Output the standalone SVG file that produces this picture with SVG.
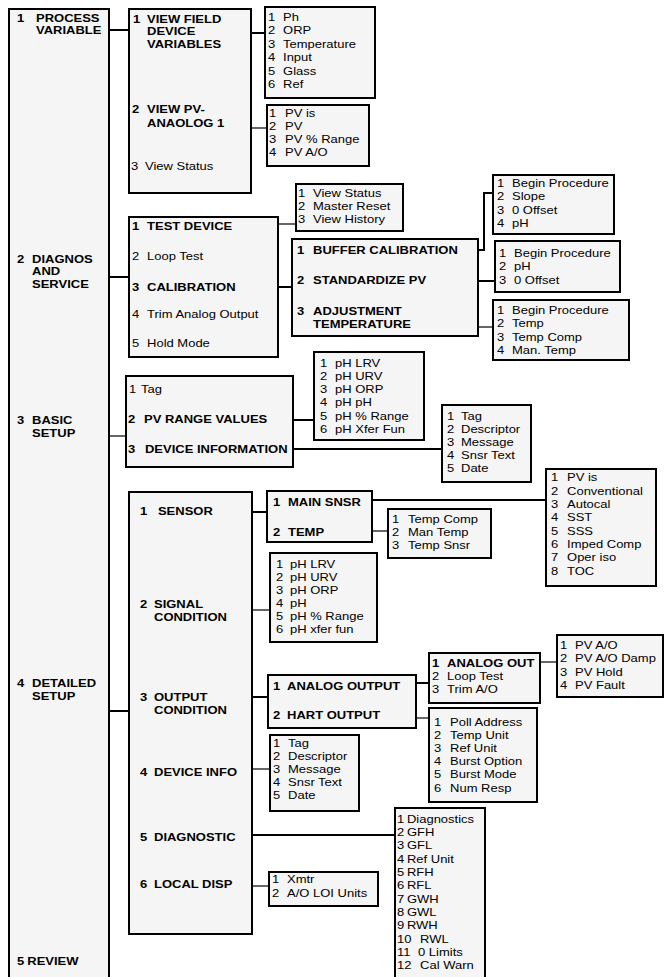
<svg xmlns="http://www.w3.org/2000/svg" width="665" height="977" viewBox="0 0 665 977">
<style>
.box{fill:#f5f5f5;stroke:#000;stroke-width:2}
text{font-family:"Liberation Sans",Arial,sans-serif;font-size:11.5px;fill:#000}
text.b{font-weight:bold}
.c{fill:none;stroke:#000}
.k{stroke-width:2}
.n{stroke-width:1.2}
</style>
<rect width="665" height="977" fill="#fff"/>
<g id="connectors">
<path class="c k" d="M109 30H129"/>
<path class="c k" d="M251 33H265"/>
<path class="c n" d="M251 128H267"/>
<path class="c k" d="M109 277H129"/>
<path class="c n" d="M278 224H296"/>
<path class="c k" d="M278 287H292"/>
<path class="c k" d="M478 250H484V193H493"/>
<path class="c k" d="M478 281H495"/>
<path class="c n" d="M478 327H493"/>
<path class="c n" d="M109 436H126"/>
<path class="c k" d="M293 420H314"/>
<path class="c k" d="M293 449H442"/>
<path class="c k" d="M109 711H129"/>
<path class="c k" d="M252 512H267"/>
<path class="c k" d="M372 500H546"/>
<path class="c n" d="M372 531H388"/>
<path class="c n" d="M252 610H270"/>
<path class="c k" d="M252 697H268"/>
<path class="c k" d="M416 683H429"/>
<path class="c n" d="M540 662H557"/>
<path class="c n" d="M416 718H429"/>
<path class="c n" d="M252 769H270"/>
<path class="c k" d="M252 835H395"/>
<path class="c n" d="M252 886H269"/>
</g>
<g id="main">
<rect class="box" x="9" y="9" width="100" height="1000"/>
<g transform="matrix(1.13 0 0 1 -2.21 0)">
<text class="b" y="22"><tspan x="17">1</tspan><tspan x="33.8">PROCESS</tspan></text>
<text class="b" x="33.8" y="34.5">VARIABLE</text>
<text class="b" y="263"><tspan x="17">2</tspan><tspan x="30.3">DIAGNOS</tspan></text>
<text class="b" x="30.3" y="275.5">AND</text>
<text class="b" x="30.3" y="288">SERVICE</text>
<text class="b" y="424.5"><tspan x="17">3</tspan><tspan x="30.3">BASIC</tspan></text>
<text class="b" x="30.3" y="437">SETUP</text>
<text class="b" y="687.5"><tspan x="17">4</tspan><tspan x="30.3">DETAILED</tspan></text>
<text class="b" x="30.3" y="700">SETUP</text>
<text class="b" y="965"><tspan x="17">5</tspan><tspan x="26.1">REVIEW</tspan></text>
</g>
</g>
<g id="pv">
<rect class="box" x="129" y="9" width="122" height="184"/>
<g transform="matrix(1.13 0 0 1 -17.29 0)">
<text class="b" y="23"><tspan x="133">1</tspan><tspan x="145.4">VIEW FIELD</tspan></text>
<text class="b" x="145.4" y="35.5">DEVICE</text>
<text class="b" x="145.4" y="48.5">VARIABLES</text>
<text class="b" y="113"><tspan x="132.1">2</tspan><tspan x="145.4">VIEW PV-</tspan></text>
<text class="b" x="145.4" y="127">ANAOLOG 1</text>
<text y="170"><tspan x="131.2">3</tspan><tspan x="143.6">View Status</tspan></text>
</g>
</g>
<g id="fieldvars">
<rect class="box" x="265" y="7" width="110" height="91"/>
<g transform="matrix(1.13 0 0 1 -34.84 0)">
<text y="21"><tspan x="268">1</tspan><tspan x="281.3">Ph</tspan></text>
<text y="34.5"><tspan x="268">2</tspan><tspan x="281.3">ORP</tspan></text>
<text y="48"><tspan x="268">3</tspan><tspan x="281.3">Temperature</tspan></text>
<text y="61.5"><tspan x="268">4</tspan><tspan x="281.3">Input</tspan></text>
<text y="75"><tspan x="268">5</tspan><tspan x="281.3">Glass</tspan></text>
<text y="88"><tspan x="268">6</tspan><tspan x="281.3">Ref</tspan></text>
</g>
</g>
<g id="pvanalog">
<rect class="box" x="267" y="105" width="102" height="61"/>
<g transform="matrix(1.13 0 0 1 -34.97 0)">
<text y="117"><tspan x="269">1</tspan><tspan x="283.2">PV is</tspan></text>
<text y="130"><tspan x="269">2</tspan><tspan x="283.2">PV</tspan></text>
<text y="143"><tspan x="269">3</tspan><tspan x="283.2">PV % Range</tspan></text>
<text y="156"><tspan x="269">4</tspan><tspan x="283.2">PV A/O</tspan></text>
</g>
</g>
<g id="diag">
<rect class="box" x="129" y="217" width="149" height="140"/>
<g transform="matrix(1.13 0 0 1 -17.16 0)">
<text class="b" y="230"><tspan x="132">1</tspan><tspan x="145.3">TEST DEVICE</tspan></text>
<text y="260"><tspan x="132">2</tspan><tspan x="145.3">Loop Test</tspan></text>
<text class="b" y="291"><tspan x="132">3</tspan><tspan x="145.3">CALIBRATION</tspan></text>
<text y="318"><tspan x="132">4</tspan><tspan x="145.3">Trim Analog Output</tspan></text>
<text y="347"><tspan x="132">5</tspan><tspan x="145.3">Hold Mode</tspan></text>
</g>
</g>
<g id="testdevice">
<rect class="box" x="296" y="184" width="107" height="47"/>
<g transform="matrix(1.13 0 0 1 -38.74 0)">
<text y="197"><tspan x="298">1</tspan><tspan x="311.3">View Status</tspan></text>
<text y="210"><tspan x="298">2</tspan><tspan x="311.3">Master Reset</tspan></text>
<text y="223"><tspan x="298">3</tspan><tspan x="311.3">View History</tspan></text>
</g>
</g>
<g id="calibration">
<rect class="box" x="292" y="239" width="186" height="97"/>
<g transform="matrix(1.13 0 0 1 -38.61 0)">
<text class="b" y="254"><tspan x="297">1</tspan><tspan x="311.2">BUFFER CALIBRATION</tspan></text>
<text class="b" y="284"><tspan x="297">2</tspan><tspan x="311.2">STANDARDIZE PV</tspan></text>
<text class="b" y="315"><tspan x="297">3</tspan><tspan x="311.2">ADJUSTMENT</tspan></text>
<text class="b" x="311.2" y="328">TEMPERATURE</text>
</g>
</g>
<g id="buffer">
<rect class="box" x="493" y="175" width="121" height="59"/>
<g transform="matrix(1.13 0 0 1 -64.61 0)">
<text y="187"><tspan x="497">1</tspan><tspan x="510.3">Begin Procedure</tspan></text>
<text y="200.5"><tspan x="497">2</tspan><tspan x="510.3">Slope</tspan></text>
<text y="214"><tspan x="497">3</tspan><tspan x="510.3">0 Offset</tspan></text>
<text y="227"><tspan x="497">4</tspan><tspan x="510.3">pH</tspan></text>
</g>
</g>
<g id="standardize">
<rect class="box" x="495" y="241" width="125" height="51"/>
<g transform="matrix(1.13 0 0 1 -64.87 0)">
<text y="257"><tspan x="499">1</tspan><tspan x="512.3">Begin Procedure</tspan></text>
<text y="270.5"><tspan x="499">2</tspan><tspan x="512.3">pH</tspan></text>
<text y="284"><tspan x="499">3</tspan><tspan x="512.3">0 Offset</tspan></text>
</g>
</g>
<g id="adjtemp">
<rect class="box" x="493" y="300" width="136" height="60"/>
<g transform="matrix(1.13 0 0 1 -64.61 0)">
<text y="314"><tspan x="497">1</tspan><tspan x="510.3">Begin Procedure</tspan></text>
<text y="327.5"><tspan x="497">2</tspan><tspan x="510.3">Temp</tspan></text>
<text y="341"><tspan x="497">3</tspan><tspan x="510.3">Temp Comp</tspan></text>
<text y="354"><tspan x="497">4</tspan><tspan x="510.3">Man. Temp</tspan></text>
</g>
</g>
<g id="basic">
<rect class="box" x="126" y="376" width="167" height="91"/>
<g transform="matrix(1.13 0 0 1 -16.64 0)">
<text y="393"><tspan x="128.9">1</tspan><tspan x="139.5">Tag</tspan></text>
<text class="b" y="423"><tspan x="128">2</tspan><tspan x="142.2">PV RANGE VALUES</tspan></text>
<text class="b" y="453"><tspan x="128">3</tspan><tspan x="143">DEVICE INFORMATION</tspan></text>
</g>
</g>
<g id="pvrange">
<rect class="box" x="314" y="352" width="110" height="88"/>
<g transform="matrix(1.13 0 0 1 -41.6 0)">
<text y="367"><tspan x="320">1</tspan><tspan x="333.3">pH LRV</tspan></text>
<text y="380"><tspan x="320">2</tspan><tspan x="333.3">pH URV</tspan></text>
<text y="393.5"><tspan x="320">3</tspan><tspan x="333.3">pH ORP</tspan></text>
<text y="406.5"><tspan x="320">4</tspan><tspan x="333.3">pH pH</tspan></text>
<text y="420"><tspan x="320">5</tspan><tspan x="333.3">pH % Range</tspan></text>
<text y="433"><tspan x="320">6</tspan><tspan x="333.3">pH Xfer Fun</tspan></text>
</g>
</g>
<g id="devinfo">
<rect class="box" x="442" y="405" width="89" height="77"/>
<g transform="matrix(1.13 0 0 1 -58.11 0)">
<text y="420"><tspan x="447">1</tspan><tspan x="459.4">Tag</tspan></text>
<text y="433"><tspan x="447">2</tspan><tspan x="459.4">Descriptor</tspan></text>
<text y="446"><tspan x="447">3</tspan><tspan x="459.4">Message</tspan></text>
<text y="459"><tspan x="447">4</tspan><tspan x="459.4">Snsr Text</tspan></text>
<text y="472"><tspan x="447">5</tspan><tspan x="459.4">Date</tspan></text>
</g>
</g>
<g id="detailed">
<rect class="box" x="129" y="492" width="123" height="442"/>
<g transform="matrix(1.13 0 0 1 -18.2 0)">
<text class="b" y="515"><tspan x="140">1</tspan><tspan x="155.9">SENSOR</tspan></text>
<text class="b" y="608"><tspan x="140">2</tspan><tspan x="152.4">SIGNAL</tspan></text>
<text class="b" x="152.4" y="621">CONDITION</text>
<text class="b" y="701"><tspan x="140">3</tspan><tspan x="152.4">OUTPUT</tspan></text>
<text class="b" x="152.4" y="714">CONDITION</text>
<text class="b" y="776"><tspan x="140">4</tspan><tspan x="152.4">DEVICE INFO</tspan></text>
<text class="b" y="841"><tspan x="140">5</tspan><tspan x="152.4">DIAGNOSTIC</tspan></text>
<text class="b" y="888"><tspan x="140">6</tspan><tspan x="152.4">LOCAL DISP</tspan></text>
</g>
</g>
<g id="sensor">
<rect class="box" x="267" y="491" width="105" height="51"/>
<g transform="matrix(1.13 0 0 1 -35.49 0)">
<text class="b" y="506"><tspan x="273">1</tspan><tspan x="286.3">MAIN SNSR</tspan></text>
<text class="b" y="536"><tspan x="273">2</tspan><tspan x="286.3">TEMP</tspan></text>
</g>
</g>
<g id="mainsnsr">
<rect class="box" x="546" y="469" width="110" height="117"/>
<g transform="matrix(1.13 0 0 1 -71.63 0)">
<text y="481.5"><tspan x="551">1</tspan><tspan x="565.2">PV is</tspan></text>
<text y="495"><tspan x="551">2</tspan><tspan x="565.2">Conventional</tspan></text>
<text y="508"><tspan x="551">3</tspan><tspan x="565.2">Autocal</tspan></text>
<text y="521.5"><tspan x="551">4</tspan><tspan x="565.2">SST</tspan></text>
<text y="535"><tspan x="551">5</tspan><tspan x="565.2">SSS</tspan></text>
<text y="548"><tspan x="551">6</tspan><tspan x="565.2">Imped Comp</tspan></text>
<text y="561.5"><tspan x="551">7</tspan><tspan x="565.2">Oper iso</tspan></text>
<text y="575"><tspan x="551">8</tspan><tspan x="565.2">TOC</tspan></text>
</g>
</g>
<g id="temp">
<rect class="box" x="388" y="509" width="103" height="49"/>
<g transform="matrix(1.13 0 0 1 -50.96 0)">
<text y="523"><tspan x="392">1</tspan><tspan x="406.2">Temp Comp</tspan></text>
<text y="536"><tspan x="392">2</tspan><tspan x="406.2">Man Temp</tspan></text>
<text y="549"><tspan x="392">3</tspan><tspan x="406.2">Temp Snsr</tspan></text>
</g>
</g>
<g id="signal">
<rect class="box" x="270" y="553" width="107" height="89"/>
<g transform="matrix(1.13 0 0 1 -35.88 0)">
<text y="568"><tspan x="276">1</tspan><tspan x="288.4">pH LRV</tspan></text>
<text y="581"><tspan x="276">2</tspan><tspan x="288.4">pH URV</tspan></text>
<text y="594"><tspan x="276">3</tspan><tspan x="288.4">pH ORP</tspan></text>
<text y="607"><tspan x="276">4</tspan><tspan x="288.4">pH</tspan></text>
<text y="620"><tspan x="276">5</tspan><tspan x="288.4">pH % Range</tspan></text>
<text y="633"><tspan x="276">6</tspan><tspan x="288.4">pH xfer fun</tspan></text>
</g>
</g>
<g id="output">
<rect class="box" x="268" y="675" width="148" height="53"/>
<g transform="matrix(1.13 0 0 1 -35.49 0)">
<text class="b" y="690"><tspan x="273">1</tspan><tspan x="285.4">ANALOG OUTPUT</tspan></text>
<text class="b" y="719"><tspan x="273">2</tspan><tspan x="285.4">HART OUTPUT</tspan></text>
</g>
</g>
<g id="analogout">
<rect class="box" x="429" y="653" width="111" height="50"/>
<g transform="matrix(1.13 0 0 1 -56.16 0)">
<text class="b" y="667"><tspan x="432">1</tspan><tspan x="445.3">ANALOG OUT</tspan></text>
<text y="680"><tspan x="432">2</tspan><tspan x="445.3">Loop Test</tspan></text>
<text y="693"><tspan x="432">3</tspan><tspan x="445.3">Trim A/O</tspan></text>
</g>
</g>
<g id="pvao">
<rect class="box" x="557" y="635" width="106" height="62"/>
<g transform="matrix(1.13 0 0 1 -72.8 0)">
<text y="649"><tspan x="560">1</tspan><tspan x="573.3">PV A/O</tspan></text>
<text y="662.5"><tspan x="560">2</tspan><tspan x="573.3">PV A/O Damp</tspan></text>
<text y="676"><tspan x="560">3</tspan><tspan x="573.3">PV Hold</tspan></text>
<text y="689.5"><tspan x="560">4</tspan><tspan x="573.3">PV Fault</tspan></text>
</g>
</g>
<g id="hart">
<rect class="box" x="429" y="708" width="108" height="94"/>
<g transform="matrix(1.13 0 0 1 -56.42 0)">
<text y="726"><tspan x="434">1</tspan><tspan x="448.2">Poll Address</tspan></text>
<text y="739"><tspan x="434">2</tspan><tspan x="448.2">Temp Unit</tspan></text>
<text y="752"><tspan x="434">3</tspan><tspan x="448.2">Ref Unit</tspan></text>
<text y="765.5"><tspan x="434">4</tspan><tspan x="448.2">Burst Option</tspan></text>
<text y="778.5"><tspan x="434">5</tspan><tspan x="448.2">Burst Mode</tspan></text>
<text y="792"><tspan x="434">6</tspan><tspan x="448.2">Num Resp</tspan></text>
</g>
</g>
<g id="devinfo2">
<rect class="box" x="270" y="735" width="89" height="76"/>
<g transform="matrix(1.13 0 0 1 -35.49 0)">
<text y="747"><tspan x="273">1</tspan><tspan x="286.3">Tag</tspan></text>
<text y="760"><tspan x="273">2</tspan><tspan x="286.3">Descriptor</tspan></text>
<text y="773"><tspan x="273">3</tspan><tspan x="286.3">Message</tspan></text>
<text y="786"><tspan x="273">4</tspan><tspan x="286.3">Snsr Text</tspan></text>
<text y="799"><tspan x="273">5</tspan><tspan x="286.3">Date</tspan></text>
</g>
</g>
<g id="diagnostic">
<rect class="box" x="395" y="808" width="90" height="200"/>
<g transform="matrix(1.13 0 0 1 -51.61 0)">
<text y="823"><tspan x="397">1</tspan><tspan x="405.8">Diagnostics</tspan></text>
<text y="836"><tspan x="397">2</tspan><tspan x="405.8">GFH</tspan></text>
<text y="849.5"><tspan x="397">3</tspan><tspan x="405.8">GFL</tspan></text>
<text y="863"><tspan x="397">4</tspan><tspan x="405.8">Ref Unit</tspan></text>
<text y="876"><tspan x="397">5</tspan><tspan x="405.8">RFH</tspan></text>
<text y="889.5"><tspan x="397">6</tspan><tspan x="405.8">RFL</tspan></text>
<text y="903"><tspan x="397">7</tspan><tspan x="405.8">GWH</tspan></text>
<text y="916"><tspan x="397">8</tspan><tspan x="405.8">GWL</tspan></text>
<text y="929.5"><tspan x="397">9</tspan><tspan x="405.8">RWH</tspan></text>
<text y="943"><tspan x="397">10</tspan><tspan x="417.4">RWL</tspan></text>
<text y="956"><tspan x="397">11</tspan><tspan x="415.6">0 Limits</tspan></text>
<text y="969"><tspan x="397">12</tspan><tspan x="417.4">Cal Warn</tspan></text>
</g>
</g>
<g id="localdisp">
<rect class="box" x="269" y="872" width="109" height="34"/>
<g transform="matrix(1.13 0 0 1 -35.36 0)">
<text y="883"><tspan x="272">1</tspan><tspan x="285.3">Xmtr</tspan></text>
<text y="897"><tspan x="272">2</tspan><tspan x="285.3">A/O LOI Units</tspan></text>
</g>
</g>
</svg>
